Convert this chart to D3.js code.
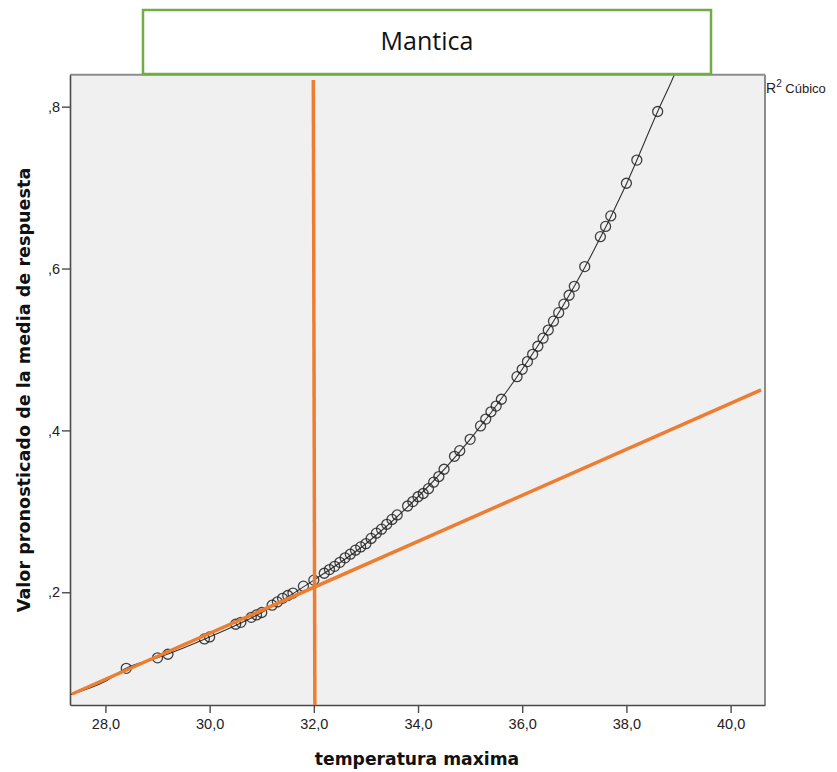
<!DOCTYPE html>
<html lang="es">
    <head>
        <meta charset="utf-8">
        <title>Mantica</title>
        <script src="https://cdnjs.cloudflare.com/ajax/libs/d3/7.8.5/d3.min.js" charset="utf-8"></script>
        <style>
            body { margin: 0; background: #ffffff; }
        </style>
    </head>
    <body>
        <div class="container"></div>

        <script type="text/javascript">

            // observed predicted values (temperatura maxima, valor pronosticado)
            var tempX = [28.4, 29.0, 29.2, 29.9, 30.0, 30.5, 30.6, 30.8, 30.9, 31.0,
                         31.2, 31.3, 31.4, 31.5, 31.6, 31.8, 32.0, 32.2, 32.3, 32.4,
                         32.5, 32.6, 32.7, 32.8, 32.9, 33.0, 33.1, 33.2, 33.3, 33.4,
                         33.5, 33.6, 33.8, 33.9, 34.0, 34.1, 34.2, 34.3, 34.4, 34.5,
                         34.7, 34.8, 35.0, 35.2, 35.3, 35.4, 35.5, 35.6, 35.9, 36.0,
                         36.1, 36.2, 36.3, 36.4, 36.5, 36.6, 36.7, 36.8, 36.9, 37.0,
                         37.2, 37.5, 37.6, 37.7, 38.0, 38.2, 38.6];
            var predY = [0.106, 0.119, 0.1234, 0.1423, 0.1448, 0.1605, 0.1628, 0.169, 0.172, 0.175,
                         0.184, 0.188, 0.1925, 0.196, 0.199, 0.2075, 0.215, 0.2235, 0.228, 0.232,
                         0.237, 0.2425, 0.247, 0.252, 0.256, 0.260, 0.2665, 0.273, 0.278, 0.284,
                         0.290, 0.2955, 0.3066, 0.312, 0.318, 0.322, 0.328, 0.336, 0.343, 0.352,
                         0.368, 0.375, 0.389, 0.4055, 0.414, 0.423, 0.430, 0.4385, 0.4664, 0.4755,
                         0.485, 0.494, 0.504, 0.514, 0.524, 0.535, 0.5455, 0.556, 0.567, 0.578,
                         0.6024, 0.6394, 0.652, 0.665, 0.7054, 0.734, 0.794];

            // cubic fit line
            var fitX = [27.32, 28.0, 28.4, 29.0, 30.0, 31.0, 32.0, 33.0, 34.0, 35.0, 36.0, 37.0, 38.0, 38.6, 38.92, 39.1];
            var fitY = [0.0735, 0.090, 0.106, 0.119, 0.1448, 0.175, 0.215, 0.260, 0.318, 0.389, 0.4755, 0.578, 0.7045, 0.794, 0.8395, 0.868];

            // orange lines drawn over the chart
            var diagX = [27.36, 40.585];
            var diagY = [0.0743, 0.45];
            var vertX = [31.99, 32.02];
            var vertY = [0.833, 0.0607];

            var xTicks = [28, 30, 32, 34, 36, 38, 40];
            var yTicks = [0.2, 0.4, 0.6, 0.8];

            var width = 837; var height = 772;
            var plotLeft = 70, plotRight = 765, plotTop = 74.7, plotBottom = 705;

            var svg = d3.select(".container").append("svg")
                .attr("width", width).attr("height", height);

            var x = d3.scaleLinear().domain([27.32, 40.66]).range([plotLeft, plotRight]);
            var y = d3.scaleLinear().domain([0.0607, 0.8395]).range([plotBottom, plotTop]);

            svg.append("defs").append("clipPath").attr("id", "plot-clip")
                .append("rect").attr("x", plotLeft).attr("y", plotTop)
                .attr("width", plotRight - plotLeft).attr("height", plotBottom - plotTop);

            // plot background
            svg.append("rect").attr("x", plotLeft).attr("y", plotTop)
                .attr("width", plotRight - plotLeft).attr("height", plotBottom - plotTop)
                .attr("fill", "#f0f0f0");

            var plot = svg.append("g").attr("clip-path", "url(#plot-clip)");

            var fit = fitX.map(function(d, i) { return [d, fitY[i]]; });
            var line = d3.line()
                .x(function(d) { return x(d[0]); })
                .y(function(d) { return y(d[1]); })
                .curve(d3.curveMonotoneX);

            plot.append("path").datum(fit).attr("d", line)
                .attr("fill", "none").attr("stroke", "#333").attr("stroke-width", 1.1);

            plot.selectAll("circle.pt").data(tempX).enter().append("circle")
                .attr("class", "pt")
                .attr("cx", function(d) { return x(d); })
                .attr("cy", function(d, i) { return y(predY[i]); })
                .attr("r", 5)
                .attr("fill", "none")
                .attr("stroke", "#222")
                .attr("stroke-opacity", 0.85)
                .attr("stroke-width", 1.3);

            // frame: top/right grey, left/bottom darker
            svg.append("line").attr("x1", plotLeft).attr("x2", plotRight).attr("y1", plotTop).attr("y2", plotTop)
                .attr("stroke", "#8c8c8c").attr("stroke-width", 2);
            svg.append("line").attr("x1", plotRight).attr("x2", plotRight).attr("y1", plotTop).attr("y2", plotBottom)
                .attr("stroke", "#8c8c8c").attr("stroke-width", 2);

            var xAxis = d3.axisBottom(x).tickValues(xTicks).tickSize(8).tickSizeOuter(0)
                .tickFormat(function(d) { return d.toFixed(1).replace(".", ","); });
            var yAxis = d3.axisLeft(y).tickValues(yTicks).tickSize(8).tickSizeOuter(0)
                .tickFormat(function(d) { return "," + Math.round(d * 10); });

            var gx = svg.append("g").attr("transform", "translate(0," + plotBottom + ")").call(xAxis);
            var gy = svg.append("g").attr("transform", "translate(" + plotLeft + ",0)").call(yAxis);

            [gx, gy].forEach(function(g) {
                g.select(".domain").attr("stroke", "#4a4a4a").attr("stroke-width", 1.6);
                g.selectAll(".tick line").attr("stroke", "#4a4a4a").attr("stroke-width", 1.4);
                g.selectAll(".tick text").attr("fill", "#222").attr("font-family", "Liberation Sans, Arial")
                    .attr("font-size", "14.5px");
            });
            gx.selectAll(".tick text").attr("dy", "0.95em").attr("y", 10);
            gy.selectAll(".tick text").attr("x", -10);

            // orange reference lines
            svg.append("line")
                .attr("x1", x(diagX[0])).attr("y1", y(diagY[0]))
                .attr("x2", x(diagX[1])).attr("y2", y(diagY[1]))
                .attr("stroke", "#ed7d31").attr("stroke-width", 3.5);
            svg.append("line")
                .attr("x1", x(vertX[0])).attr("y1", y(vertY[0]))
                .attr("x2", x(vertX[1])).attr("y2", y(vertY[1]))
                .attr("stroke", "#ed7d31").attr("stroke-width", 3.5);

            // axis titles
            svg.append("text").text("temperatura maxima")
                .attr("x", 417).attr("y", 765).attr("text-anchor", "middle")
                .attr("font-family", "DejaVu Sans").attr("font-weight", "bold").attr("font-size", "17.2px")
                .attr("fill", "#111");
            svg.append("text").text("Valor pronosticado de la media de respuesta")
                .attr("transform", "translate(30,390) rotate(-90)").attr("text-anchor", "middle")
                .attr("font-family", "DejaVu Sans").attr("font-weight", "bold").attr("font-size", "17.6px")
                .attr("fill", "#111");

            // legend
            var leg = svg.append("text").attr("x", 766).attr("y", 93)
                .attr("font-family", "Liberation Sans, Arial").attr("font-size", "14px").attr("fill", "#222");
            leg.append("tspan").text("R");
            leg.append("tspan").text("2").attr("font-size", "10px").attr("dy", -6);
            leg.append("tspan").text(" Cúbico").attr("font-size", "13px").attr("dy", 6);

            // title box
            svg.append("rect").attr("x", 143).attr("y", 10).attr("width", 568).attr("height", 64)
                .attr("fill", "#ffffff").attr("stroke", "#70ad47").attr("stroke-width", 2.5);
            svg.append("text").text("Mantica")
                .attr("x", 427).attr("y", 50).attr("text-anchor", "middle")
                .attr("font-family", "Open Sans").attr("font-size", "25px").attr("fill", "#111");

        </script>
    </body>
</html>
